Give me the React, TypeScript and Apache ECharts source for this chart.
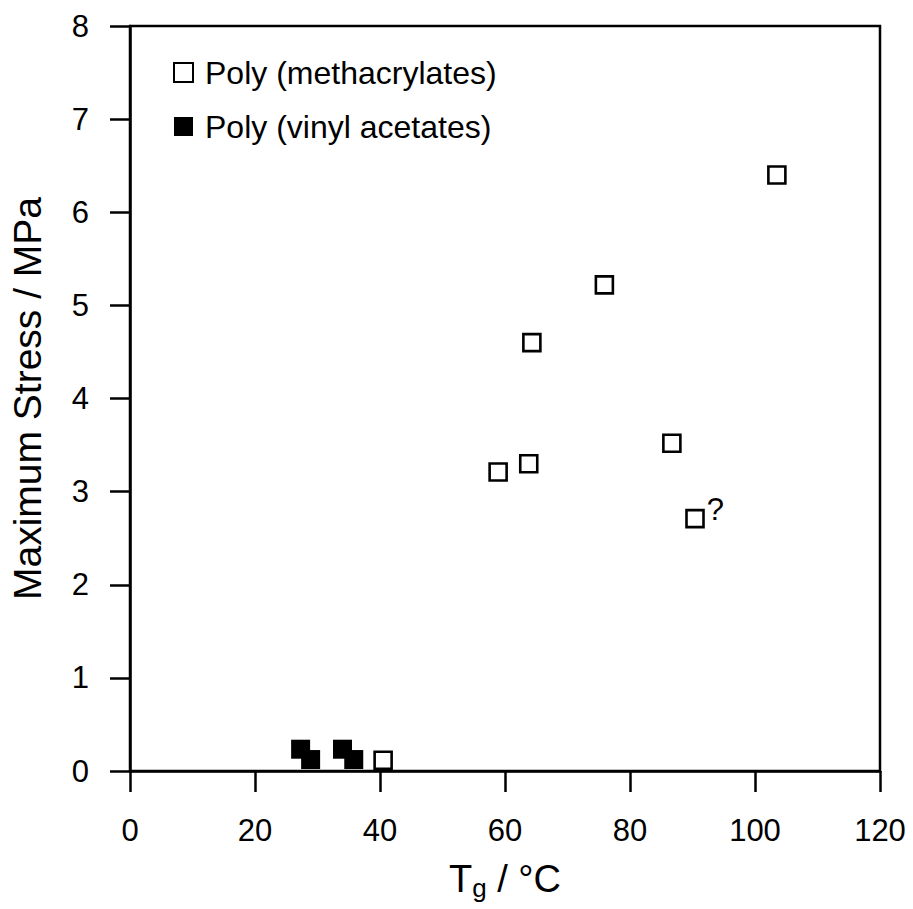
import React, { useEffect, useRef } from "react";
import * as echarts from "echarts";

const methacrylateTg = [103.5, 75.9, 64.3, 86.7, 63.8, 58.9, 90.4, 40.5];
const methacrylateStress = [6.4, 5.22, 4.6, 3.52, 3.3, 3.21, 2.71, 0.115];
const vinylAcetateTg = [27.3, 28.9, 34.0, 35.8];
const vinylAcetateStress = [0.234, 0.123, 0.234, 0.123];
const questionIndex = 6;

const seriesNames = ["Poly (methacrylates)", "Poly (vinyl acetates)"];
const xTicks = { min: 0, max: 120, interval: 20 };
const yTicks = { min: 0, max: 8, interval: 1 };

const FONT = "'Liberation Sans', Arial, Helvetica, sans-serif";

export default function App() {
  const ref = useRef<HTMLDivElement>(null);
  useEffect(() => {
    if (!ref.current) return;
    const chart = echarts.init(ref.current, null, { renderer: "svg" });
    const metData = methacrylateTg.map((x, i) => {
      const item: any = { value: [x, methacrylateStress[i]] };
      if (i === questionIndex) {
        item.label = {
          show: true,
          formatter: "?",
          position: "right",
          distance: 2,
          offset: [0, -9],
          fontSize: 31,
          color: "#000",
          fontFamily: FONT,
        };
      }
      return item;
    });
    const vinData = vinylAcetateTg.map((x, i) => [x, vinylAcetateStress[i]]);
    const axisLine = { show: true, lineStyle: { color: "#000", width: 2.5 } };
    chart.setOption({
      animation: false,
      backgroundColor: "#fff",
      textStyle: { fontFamily: FONT },
      grid: {
        left: 129,
        top: 26,
        width: 751,
        height: 745,
        show: true,
        borderColor: "#000",
        borderWidth: 2.5,
        backgroundColor: "transparent",
      },
      legend: {
        orient: "vertical",
        left: 173,
        top: 55,
        padding: 0,
        itemWidth: 19,
        itemHeight: 19,
        itemGap: 19,
        icon: "rect",
        textStyle: { fontSize: 32, color: "#000", fontFamily: FONT, lineHeight: 35, padding: [0, 0, 0, 7] },
        data: seriesNames,
      },
      xAxis: {
        type: "value",
        min: xTicks.min,
        max: xTicks.max,
        interval: xTicks.interval,
        axisLine,
        axisTick: { show: true, inside: false, length: 21, lineStyle: { color: "#000", width: 2.5 } },
        splitLine: { show: false },
        axisLabel: { fontSize: 31, color: "#000", margin: 44, fontFamily: FONT },
        name: "{t|T}{s|g}{t| / °C}",
        nameLocation: "middle",
        nameGap: 86,
        nameTextStyle: {
          rich: {
            t: { fontSize: 38, color: "#000", fontFamily: FONT },
            s: { fontSize: 26, color: "#000", fontFamily: FONT, padding: [18, 0, 0, 0] },
          },
        },
      },
      yAxis: {
        type: "value",
        min: yTicks.min,
        max: yTicks.max,
        interval: yTicks.interval,
        axisLine,
        axisTick: { show: true, inside: false, length: 20, lineStyle: { color: "#000", width: 2.5 } },
        splitLine: { show: false },
        axisLabel: { fontSize: 31, color: "#000", margin: 41, fontFamily: FONT },
        name: "Maximum Stress / MPa",
        nameLocation: "middle",
        nameRotate: 90,
        nameGap: 83,
        nameTextStyle: { fontSize: 39, color: "#000", fontFamily: FONT },
      },
      series: [
        {
          name: seriesNames[0],
          type: "scatter",
          symbol: "rect",
          symbolSize: 17,
          itemStyle: { color: "#fff", borderColor: "#000", borderWidth: 2.6, opacity: 1 },
          data: metData,
          z: 3,
        },
        {
          name: seriesNames[1],
          type: "scatter",
          symbol: "rect",
          symbolSize: 19,
          itemStyle: { color: "#000", opacity: 1 },
          data: vinData,
          z: 2,
        },
      ],
    });
    return () => chart.dispose();
  }, []);
  return <div ref={ref} style={{ width: 913, height: 909, position: "absolute", left: 0, top: 0 }} />;
}
